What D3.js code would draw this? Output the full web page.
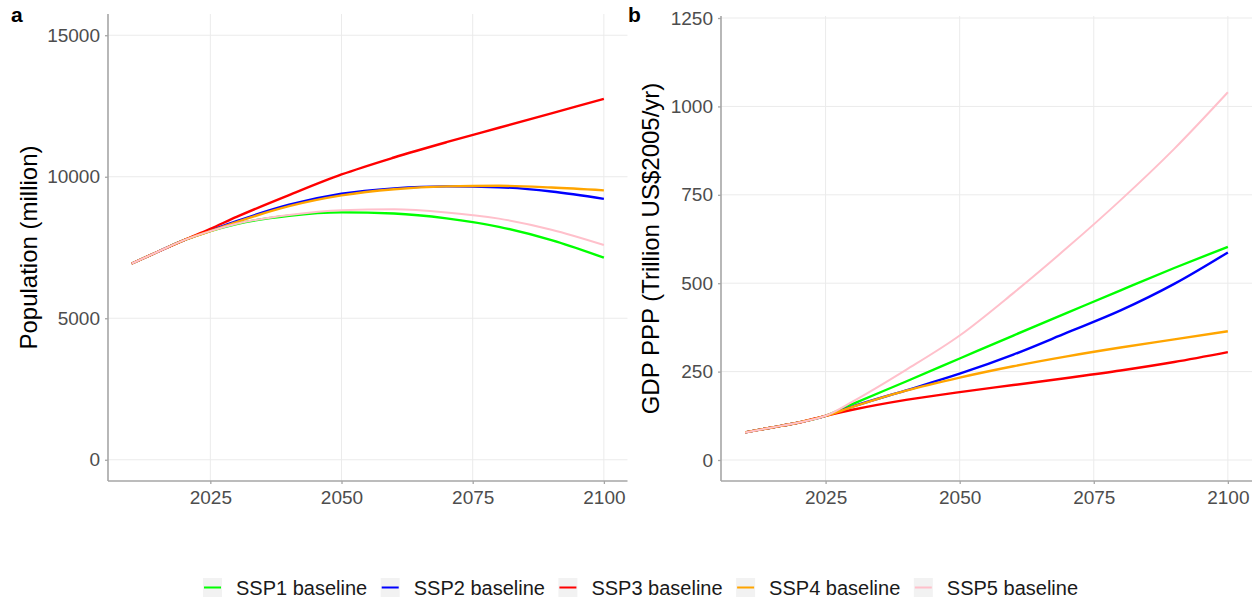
<!DOCTYPE html>
<html><head><meta charset="utf-8">
<script src="https://cdn.jsdelivr.net/npm/d3@7"></script>
<style>
body{margin:0;background:#fff;}
svg{display:block;font-family:"Liberation Sans",Arial,Helvetica,sans-serif;}
</style></head>
<body><svg id="c" width="1260" height="601"></svg>
<script>
const years = [2010, 2015, 2020, 2025, 2030, 2040, 2050, 2060, 2070, 2080, 2090, 2100];
const scenarios = ["SSP1 baseline", "SSP2 baseline", "SSP3 baseline", "SSP4 baseline", "SSP5 baseline"];
const colors = ["#00ff00", "#0000ff", "#ff0000", "#ffa500", "#ffc0cb"];

// Population (million)
const popSSP1 = [6930, 7350, 7760, 8080, 8330, 8620, 8740, 8700, 8530, 8230, 7760, 7140];
const popSSP2 = [6930, 7350, 7760, 8100, 8430, 9010, 9400, 9590, 9660, 9630, 9480, 9220];
const popSSP3 = [6930, 7350, 7760, 8160, 8580, 9350, 10080, 10680, 11220, 11730, 12240, 12750];
const popSSP4 = [6930, 7350, 7760, 8080, 8400, 8960, 9340, 9560, 9660, 9680, 9620, 9520];
const popSSP5 = [6930, 7350, 7760, 8080, 8340, 8650, 8820, 8850, 8740, 8520, 8130, 7590];

// GDP PPP (Trillion US$2005/yr)
const gdpSSP1 = [78, 92, 106, 125, 158, 222, 287, 352, 416, 480, 543, 603];
const gdpSSP2 = [78, 92, 106, 125, 151, 197, 244, 298, 360, 423, 498, 587];
const gdpSSP3 = [78, 92, 106, 125, 142, 170, 192, 212, 232, 253, 277, 305];
const gdpSSP4 = [78, 92, 106, 125, 150, 196, 233, 265, 293, 318, 341, 364];
const gdpSSP5 = [78, 92, 106, 125, 165, 255, 352, 472, 600, 735, 880, 1040];

const xTicks = [2025, 2050, 2075, 2100];
const popTicks = [0, 5000, 10000, 15000];
const gdpTicks = [0, 250, 500, 750, 1000, 1250];

const svg = d3.select("#c");
const FONT_TICK = 19, FONT_TITLE = 24;

function panel(opts) {
  const {x0, x1, y0, y1, ydom, yticks, series, title, titleX, label, labelX} = opts;
  const x = d3.scaleLinear().domain([2005.5, 2104.5]).range([x0, x1]);
  const y = d3.scaleLinear().domain(ydom).range([y1, y0]);
  const g = svg.append("g");
  // grid
  g.selectAll(".gy").data(yticks).join("line")
    .attr("x1", x0).attr("x2", x1).attr("y1", d => y(d)).attr("y2", d => y(d))
    .attr("stroke", "#ebebeb").attr("stroke-width", 1);
  g.selectAll(".gx").data(xTicks).join("line")
    .attr("y1", y0).attr("y2", y1).attr("x1", d => x(d)).attr("x2", d => x(d))
    .attr("stroke", "#ebebeb").attr("stroke-width", 1);
  // lines
  const line = d3.line().x((d, i) => x(years[i])).y(d => y(d)).curve(d3.curveMonotoneX);
  series.forEach((s, i) => {
    g.append("path").attr("d", line(s)).attr("fill", "none")
      .attr("stroke", colors[i]).attr("stroke-width", i === 4 ? 2 : 2.4)
      .attr("stroke-linejoin", "round").attr("stroke-linecap", "butt");
  });
  // axes
  const ax = g.append("g").attr("transform", `translate(0,${y1})`)
    .call(d3.axisBottom(x).tickValues(xTicks).tickFormat(d3.format("d")).tickSize(3).tickPadding(5));
  const ay = g.append("g").attr("transform", `translate(${x0},0)`)
    .call(d3.axisLeft(y).tickValues(yticks).tickFormat(d3.format("d")).tickSize(3).tickPadding(5));
  [ax, ay].forEach(a => {
    a.select(".domain").remove();
    a.selectAll(".tick line").attr("stroke", "#a6a6a6").attr("stroke-width", 1.3);
    a.selectAll(".tick text").attr("fill", "#4d4d4d").attr("font-size", FONT_TICK)
      .attr("font-family", "Liberation Sans, Arial, sans-serif");
  });
  ax.selectAll(".tick text").attr("dy", "0.8em");
  g.append("line").attr("x1", x0).attr("x2", x0).attr("y1", y0).attr("y2", y1)
    .attr("stroke", "#a6a6a6").attr("stroke-width", 1.6);
  g.append("line").attr("x1", x0).attr("x2", x1).attr("y1", y1).attr("y2", y1)
    .attr("stroke", "#a6a6a6").attr("stroke-width", 1.6);
  // title
  g.append("text").attr("transform", `translate(${titleX},${(y0 + y1) / 2}) rotate(-90)`)
    .attr("text-anchor", "middle").attr("font-size", FONT_TITLE).attr("fill", "#000").text(title);
  g.append("text").attr("x", labelX).attr("y", 22).attr("font-size", 21).attr("font-weight", "bold")
    .attr("fill", "#000").text(label);
}

panel({x0: 108, x1: 627.5, y0: 14, y1: 481, ydom: [-750, 15750], yticks: popTicks,
  series: [popSSP1, popSSP2, popSSP3, popSSP4, popSSP5], title: "Population (million)",
  titleX: 37, label: "a", labelX: 11});
panel({x0: 721, x1: 1252, y0: 16, y1: 481, ydom: [-59.4, 1255.7], yticks: gdpTicks,
  series: [gdpSSP1, gdpSSP2, gdpSSP3, gdpSSP4, gdpSSP5], title: "GDP PPP (Trillion US$2005/yr)",
  titleX: 659, label: "b", labelX: 628});

// legend
const lg = svg.append("g");
let lx = 203;
scenarios.forEach((s, i) => {
  lg.append("rect").attr("x", lx).attr("y", 578).attr("width", 19).attr("height", 19).attr("fill", "#f2f2f2");
  lg.append("line").attr("x1", lx + 1).attr("x2", lx + 18).attr("y1", 587.5).attr("y2", 587.5)
    .attr("stroke", colors[i]).attr("stroke-width", 2);
  const t = lg.append("text").attr("x", lx + 33).attr("y", 594.5).attr("font-size", 20).attr("fill", "#1a1a1a").text(s);
  lx = lx + 33 + t.node().getComputedTextLength() + 13.5;
});
</script></body></html>
